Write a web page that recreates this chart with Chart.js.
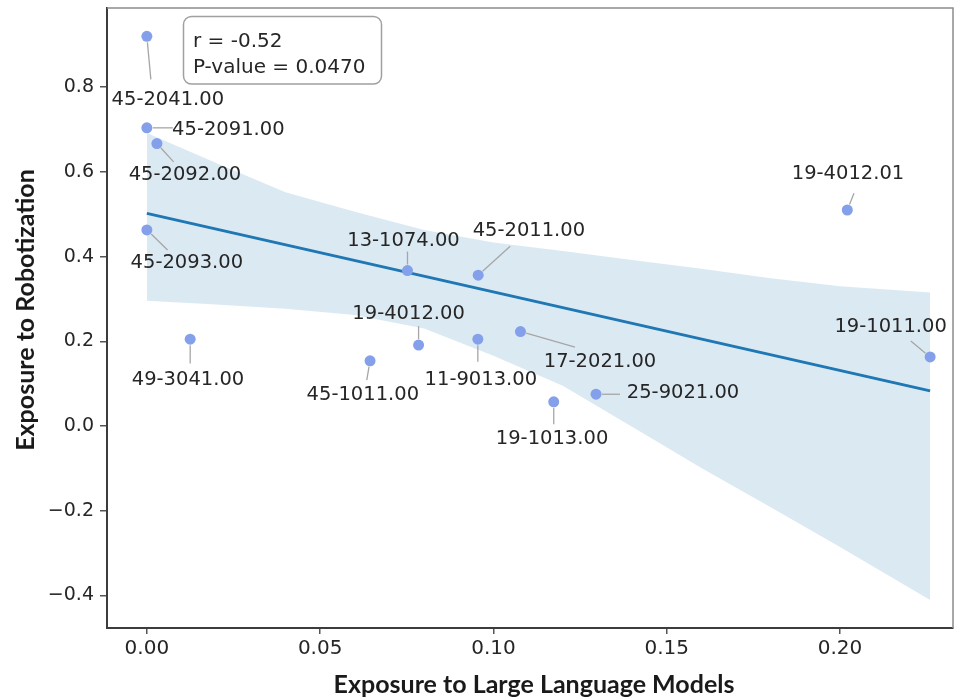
<!DOCTYPE html>
<html>
<head>
<meta charset="utf-8">
<script src="https://cdn.jsdelivr.net/npm/chart.js@4/dist/chart.umd.min.js"></script>
<style>
  html, body { margin: 0; padding: 0; background: #ffffff; }
  #wrap { width: 959px; height: 697px; position: relative; }
</style>
</head>
<body>
<div id="wrap"><canvas id="chart" width="959" height="697"></canvas></div>
<script>
// Occupations (SOC codes) and their two exposure scores
const codes = [
  '45-2041.00', '45-2091.00', '45-2092.00', '45-2093.00', '49-3041.00',
  '45-1011.00', '13-1074.00', '19-4012.00', '11-9013.00', '45-2011.00',
  '17-2021.00', '19-1013.00', '25-9021.00', '19-4012.01', '19-1011.00'
];
const llmExposure = [
  0.000, 0.000, 0.0029, 0.000, 0.0125,
  0.0644, 0.0752, 0.0784, 0.0955, 0.0956,
  0.1078, 0.1174, 0.1296, 0.2021, 0.2260
];
const robotExposure = [
  0.920, 0.704, 0.667, 0.463, 0.205,
  0.154, 0.367, 0.191, 0.205, 0.356,
  0.223, 0.057, 0.075, 0.510, 0.163
];

// Fitted regression line and its confidence band
const fitX = [0.000, 0.226];
const fitY = [0.502, 0.083];
const bandX     = [0.000, 0.020, 0.040, 0.060, 0.080, 0.100, 0.120, 0.140, 0.160, 0.180, 0.200, 0.226];
const bandUpper = [0.692, 0.621, 0.552, 0.506, 0.463, 0.433, 0.413, 0.392, 0.371, 0.349, 0.330, 0.315];
const bandLower = [0.296, 0.287, 0.277, 0.262, 0.230, 0.166, 0.095, -0.002, -0.099, -0.192, -0.286, -0.411];

// Axis ticks and correlation summary
const xTicks = [0.00, 0.05, 0.10, 0.15, 0.20];
const yTicks = [-0.4, -0.2, 0.0, 0.2, 0.4, 0.6, 0.8];
const statLines = ['r = -0.52', 'P-value = 0.0470'];
const xTitle = 'Exposure to Large Language Models';
const yTitle = 'Exposure to Robotization';

// Label placement around each point, in pixels: text centre (dx, dy) and leader end (lx, ly)
const labelPlacement = [
  { dx: 21,   dy: 64,   lx: 4,    ly: 43 },
  { dx: 81.5, dy: 1.6,  lx: 26,   ly: 0 },
  { dx: 28,   dy: 31.7, lx: 16.7, ly: 18.3 },
  { dx: 40,   dy: 33.3, lx: 20.7, ly: 20 },
  { dx: -2.2, dy: 41,   lx: 0,    ly: 24.3 },
  { dx: -7.2, dy: 34.3, lx: -3.3, ly: 19.3 },
  { dx: -4,   dy: -30,  lx: 0,    ly: -19 },
  { dx: -10,  dy: -30.7,lx: 0,    ly: -19 },
  { dx: 3,    dy: 40.3, lx: 0,    ly: 22.7 },
  { dx: 50.7, dy: -44,  lx: 32,   ly: -29 },
  { dx: 79.5, dy: 30,   lx: 54.5, ly: 15.6 },
  { dx: -1.7, dy: 36.6, lx: 0,    ly: 22.3 },
  { dx: 87,   dy: -1.6, lx: 24,   ly: 0 },
  { dx: 0.7,  dy: -35.7,lx: 6.7,  ly: -16.7 },
  { dx: -39.5,dy: -30.3,lx: -19.3,ly: -16 }
];

const toPoints = (xs, ys) => xs.map((v, i) => ({ x: v, y: ys[i] }));
const fmtMinus = s => s.replace('-', '\u2212');
const noPad = s => { s.paddingTop = 0; s.paddingBottom = 0; s.paddingLeft = 0; s.paddingRight = 0; };

const annotate = {
  id: 'annotate',
  afterDatasetsDraw(chart) {
    const { ctx, scales: { x, y } } = chart;
    ctx.save();
    ctx.font = '19.5px "DejaVu Sans"';
    ctx.textAlign = 'center';
    ctx.textBaseline = 'middle';
    codes.forEach((code, i) => {
      const px = x.getPixelForValue(llmExposure[i]);
      const py = y.getPixelForValue(robotExposure[i]);
      const p = labelPlacement[i];
      const len = Math.hypot(p.lx, p.ly);
      const sx = px + p.lx / len * 6;
      const sy = py + p.ly / len * 6;
      ctx.strokeStyle = '#a6a6a6';
      ctx.lineWidth = 1.3;
      ctx.beginPath();
      ctx.moveTo(sx, sy);
      ctx.lineTo(px + p.lx, py + p.ly);
      ctx.stroke();
      ctx.fillStyle = '#262626';
      ctx.fillText(code, px + p.dx, py + p.dy);
    });
    ctx.restore();
  },
  afterDraw(chart) {
    const { ctx, chartArea: a } = chart;
    ctx.save();
    // top and right spines
    ctx.strokeStyle = '#8c8c8c';
    ctx.lineWidth = 1.5;
    ctx.beginPath();
    ctx.moveTo(a.left, a.top);
    ctx.lineTo(a.right, a.top);
    ctx.lineTo(a.right, a.bottom);
    ctx.stroke();

    // correlation box
    ctx.fillStyle = '#ffffff';
    ctx.strokeStyle = '#a0a0a0';
    ctx.lineWidth = 1.5;
    ctx.beginPath();
    ctx.roundRect(183.5, 16.5, 198, 67.5, 8);
    ctx.fill();
    ctx.stroke();
    ctx.fillStyle = '#262626';
    ctx.font = '20px "DejaVu Sans"';
    ctx.textAlign = 'left';
    ctx.textBaseline = 'alphabetic';
    ctx.fillText(statLines[0], 193, 46.7);
    ctx.fillText(statLines[1], 193, 73.3);

    // axis titles
    ctx.font = 'bold 25px Lato';
    ctx.textAlign = 'center';
    ctx.textBaseline = 'middle';
    ctx.fillStyle = '#1a1a1a';
    ctx.fillText(xTitle, 534, 685);
    ctx.translate(26, 310);
    ctx.rotate(-Math.PI / 2);
    ctx.fillText(yTitle, 0, 0);
    ctx.restore();
  }
};

Chart.defaults.font.family = '"DejaVu Sans"';
Chart.defaults.color = '#262626';

new Chart(document.getElementById('chart'), {
  type: 'scatter',
  data: {
    datasets: [
      {
        data: toPoints(llmExposure, robotExposure),
        backgroundColor: 'rgb(132,160,234)',
        borderWidth: 0,
        pointRadius: 5.5,
        order: 0
      },
      {
        data: toPoints(fitX, fitY),
        showLine: true,
        borderColor: '#1f77b4',
        borderWidth: 3,
        pointRadius: 0,
        order: 1
      },
      {
        data: toPoints(bandX, bandUpper),
        showLine: true,
        borderWidth: 0,
        borderColor: 'rgba(0,0,0,0)',
        backgroundColor: 'rgba(31,119,180,0.16)',
        fill: '+1',
        pointRadius: 0,
        order: 2
      },
      {
        data: toPoints(bandX, bandLower),
        showLine: true,
        borderWidth: 0,
        borderColor: 'rgba(0,0,0,0)',
        fill: false,
        pointRadius: 0,
        order: 3
      }
    ]
  },
  options: {
    responsive: false,
    animation: false,
    layout: { padding: { top: 8, right: 6, left: 0, bottom: 0 } },
    plugins: { legend: { display: false }, tooltip: { enabled: false } },
    scales: {
      x: {
        type: 'linear',
        min: -0.0115,
        max: 0.2326,
        afterBuildTicks: s => { s.ticks = xTicks.map(v => ({ value: v })); },
        afterFit: s => { s.height = 69; noPad(s); },
        ticks: {
          callback: v => v.toFixed(2),
          font: { size: 20 },
          padding: 3,
          maxRotation: 0,
          color: '#262626'
        },
        grid: { drawOnChartArea: false, drawTicks: true, tickLength: 6, color: '#555', lineWidth: 1.5 },
        border: { display: true, color: '#3c3c3c', width: 2 }
      },
      y: {
        type: 'linear',
        min: -0.477,
        max: 0.987,
        afterBuildTicks: s => { s.ticks = yTicks.map(v => ({ value: v })); },
        afterFit: s => { s.width = 107; noPad(s); },
        ticks: {
          callback: v => fmtMinus(v.toFixed(1)),
          font: { size: 19 },
          padding: 6,
          color: '#262626'
        },
        grid: { drawOnChartArea: false, drawTicks: true, tickLength: 7, color: '#555', lineWidth: 1.5 },
        border: { display: true, color: '#3c3c3c', width: 2 }
      }
    }
  },
  plugins: [annotate]
});
</script>
</body>
</html>
